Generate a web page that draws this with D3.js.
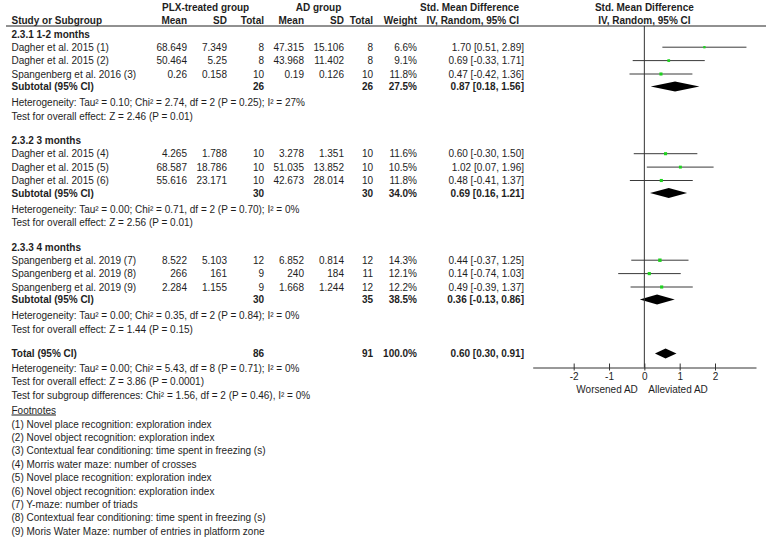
<!DOCTYPE html>
<html>
<head>
<meta charset="utf-8">
<script src="https://cdn.jsdelivr.net/npm/d3@7"></script>
<style>
body { margin: 0; background: #fff; }
text { font-family: "Liberation Sans", Arial, sans-serif; font-size: 10px; fill: #1e1e1e; }
text.b { font-weight: bold; font-size: 10px; }
</style>
</head>
<body>
<script>
// study level data
const studies = ["Dagher et al. 2015 (1)", "Dagher et al. 2015 (2)", "Spangenberg et al. 2016 (3)",
  "Dagher et al. 2015 (4)", "Dagher et al. 2015 (5)", "Dagher et al. 2015 (6)",
  "Spangenberg et al. 2019 (7)", "Spangenberg et al. 2019 (8)", "Spangenberg et al. 2019 (9)"];
const groupOf = [0, 0, 0, 1, 1, 1, 2, 2, 2];
const plxMean = [68.649, 50.464, 0.26, 4.265, 68.587, 55.616, 8.522, 266, 2.284];
const plxSD = [7.349, 5.25, 0.158, 1.788, 18.786, 23.171, 5.103, 161, 1.155];
const plxN = [8, 8, 10, 10, 10, 10, 12, 9, 9];
const adMean = [47.315, 43.968, 0.19, 3.278, 51.035, 42.673, 6.852, 240, 1.668];
const adSD = [15.106, 11.402, 0.126, 1.351, 13.852, 28.014, 0.814, 184, 1.244];
const adN = [8, 8, 10, 10, 10, 10, 12, 11, 12];
const weight = [6.6, 9.1, 11.8, 11.6, 10.5, 11.8, 14.3, 12.1, 12.2];
const smd = [1.70, 0.69, 0.47, 0.60, 1.02, 0.48, 0.44, 0.14, 0.49];
const ciLo = [0.51, -0.33, -0.42, -0.30, 0.07, -0.41, -0.37, -0.74, -0.39];
const ciHi = [2.89, 1.71, 1.36, 1.50, 1.96, 1.37, 1.25, 1.03, 1.37];

// subgroup data
const groupLabels = ["2.3.1 1-2 months", "2.3.2 3 months", "2.3.3 4 months"];
const subN1 = [26, 30, 30];
const subN2 = [26, 30, 35];
const subW = [27.5, 34.0, 38.5];
const subSmd = [0.87, 0.69, 0.36];
const subLo = [0.18, 0.16, -0.13];
const subHi = [1.56, 1.21, 0.86];
const subHet = [
  "Heterogeneity: Tau² = 0.10; Chi² = 2.74, df = 2 (P = 0.25); I² = 27%",
  "Heterogeneity: Tau² = 0.00; Chi² = 0.71, df = 2 (P = 0.70); I² = 0%",
  "Heterogeneity: Tau² = 0.00; Chi² = 0.35, df = 2 (P = 0.84); I² = 0%"];
const subZ = [
  "Test for overall effect: Z = 2.46 (P = 0.01)",
  "Test for overall effect: Z = 2.56 (P = 0.01)",
  "Test for overall effect: Z = 1.44 (P = 0.15)"];

// overall
const totN1 = 86, totN2 = 91, totW = 100.0, totSmd = 0.60, totLo = 0.30, totHi = 0.91;
const totNotes = [
  "Heterogeneity: Tau² = 0.00; Chi² = 5.43, df = 8 (P = 0.71); I² = 0%",
  "Test for overall effect: Z = 3.86 (P = 0.0001)",
  "Test for subgroup differences: Chi² = 1.56, df = 2 (P = 0.46), I² = 0%"];
const footnotes = [
  "(1) Novel place recognition: exploration index",
  "(2) Novel object recognition: exploration index",
  "(3) Contextual fear conditioning: time spent in freezing (s)",
  "(4) Morris water maze: number of crosses",
  "(5) Novel place recognition: exploration index",
  "(6) Novel object recognition: exploration index",
  "(7) Y-maze: number of triads",
  "(8) Contextual fear conditioning: time spent in freezing (s)",
  "(9) Moris Water Maze: number of entries in platform zone"];
const axisTicks = [-2, -1, 0, 1, 2];

const width = 767, height = 540;
const col = { study: 11.5, m1: 187, sd1: 227, n1: 264, m2: 304, sd2: 344, n2: 373, w: 417, ci: 524 };

const f2 = v => d3.format(".2f")(v).replace("−", "-");
const pct = v => d3.format(".1f")(v) + "%";
const ciText = (m, lo, hi) => `${f2(m)} [${f2(lo)}, ${f2(hi)}]`;

const svg = d3.select("body").append("svg")
  .attr("width", width)
  .attr("height", height);

const x = d3.scaleLinear().domain([-3.16, 3.16]).range([532.7, 756]);

function txt(px, py, s, anchor, bold) {
  return svg.append("text")
    .attr("x", px).attr("y", py + 3.5)
    .attr("text-anchor", anchor || "start")
    .attr("class", bold ? "b" : null)
    .text(s);
}

// header
txt(162, 7, "PLX-treated group", "start", true);
txt(318.5, 7, "AD group", "middle", true);
txt(519, 7, "Std. Mean Difference", "end", true);
txt(x(0), 7, "Std. Mean Difference", "middle", true);
txt(col.study, 20, "Study or Subgroup", "start", true);
txt(col.m1, 20, "Mean", "end", true);
txt(col.sd1, 20, "SD", "end", true);
txt(col.n1, 20, "Total", "end", true);
txt(col.m2, 20, "Mean", "end", true);
txt(col.sd2, 20, "SD", "end", true);
txt(col.n2, 20, "Total", "end", true);
txt(col.w, 20, "Weight", "end", true);
txt(519, 20, "IV, Random, 95% CI", "end", true);
txt(x(0), 20, "IV, Random, 95% CI", "middle", true);

svg.append("line")
  .attr("x1", 6).attr("x2", 766).attr("y1", 26).attr("y2", 26)
  .attr("stroke", "#222").attr("stroke-width", 1);

const plot = svg.append("g");

function diamond(yc, m, lo, hi) {
  plot.append("path")
    .attr("d", `M${x(lo)},${yc}L${x(m)},${yc - 5}L${x(hi)},${yc}L${x(m)},${yc + 5}Z`)
    .attr("fill", "#000");
}

// rows
let yc = 34;
groupLabels.forEach((g, gi) => {
  txt(col.study, yc, g, "start", true);
  yc += 13.2;
  const idx = studies.map((s, i) => i).filter(i => groupOf[i] === gi);
  idx.forEach(i => {
    txt(col.study, yc, studies[i]);
    txt(col.m1, yc, String(plxMean[i]), "end");
    txt(col.sd1, yc, String(plxSD[i]), "end");
    txt(col.n1, yc, String(plxN[i]), "end");
    txt(col.m2, yc, String(adMean[i]), "end");
    txt(col.sd2, yc, String(adSD[i]), "end");
    txt(col.n2, yc, String(adN[i]), "end");
    txt(col.w, yc, pct(weight[i]), "end");
    txt(col.ci, yc, ciText(smd[i], ciLo[i], ciHi[i]), "end");
    plot.append("line")
      .attr("x1", x(ciLo[i])).attr("x2", x(ciHi[i]))
      .attr("y1", yc).attr("y2", yc)
      .attr("stroke", "#3a3a3a").attr("stroke-width", 1);
    const side = 0.9 * Math.sqrt(weight[i]);
    plot.append("rect")
      .attr("x", x(smd[i]) - side / 2).attr("y", yc - side / 2)
      .attr("width", side).attr("height", side)
      .attr("fill", "#1ed21e");
    yc += 13.4;
  });
  yc += 12.6 - 13.4;
  txt(col.study, yc, "Subtotal (95% CI)", "start", true);
  txt(col.n1, yc, String(subN1[gi]), "end", true);
  txt(col.n2, yc, String(subN2[gi]), "end", true);
  txt(col.w, yc, pct(subW[gi]), "end", true);
  txt(col.ci, yc, ciText(subSmd[gi], subLo[gi], subHi[gi]), "end", true);
  diamond(yc, subSmd[gi], subLo[gi], subHi[gi]);
  yc += 16.2;
  txt(col.study, yc, subHet[gi]);
  yc += 13.4;
  txt(col.study, yc, subZ[gi]);
  yc += 24.3;
});

// overall
txt(col.study, yc, "Total (95% CI)", "start", true);
txt(col.n1, yc, String(totN1), "end", true);
txt(col.n2, yc, String(totN2), "end", true);
txt(col.w, yc, pct(totW), "end", true);
txt(col.ci, yc, ciText(totSmd, totLo, totHi), "end", true);
diamond(yc, totSmd, totLo, totHi);
const axisY = yc + 14;
yc += 15;
totNotes.forEach(s => { txt(col.study, yc, s); yc += 13.4; });
yc += 1.3;
txt(col.study, yc, "Footnotes").attr("text-decoration", "underline");
yc += 14;
footnotes.forEach(s => { txt(col.study, yc, s); yc += 13.4; });

// zero line
plot.append("line")
  .attr("x1", x(0)).attr("x2", x(0))
  .attr("y1", 26).attr("y2", axisY)
  .attr("stroke", "#333").attr("stroke-width", 1);

// axis
const ax = svg.append("g")
  .attr("transform", `translate(0,${axisY})`)
  .attr("color", "#333")
  .call(d3.axisBottom(x).tickValues(axisTicks).tickFormat(d => String(d))
    .tickSizeInner(3).tickSizeOuter(0).tickPadding(2));
ax.selectAll(".tick line").attr("y1", -4).attr("y2", 3);
ax.selectAll(".tick text").attr("font-size", null);

txt(x(0) - 6.5, axisY + 21.5, "Worsened AD", "end");
txt(x(0) + 4, axisY + 21.5, "Alleviated AD", "start");
</script>
</body>
</html>
